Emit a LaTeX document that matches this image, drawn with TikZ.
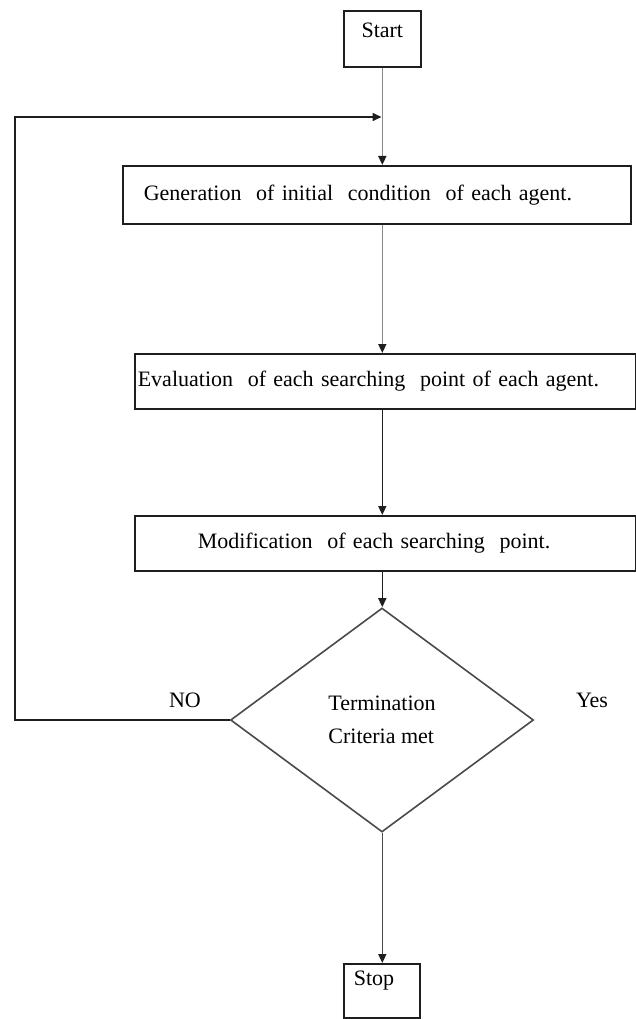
\documentclass[tikz,border=0pt]{standalone}
\usepackage{fontspec}
\setmainfont{Liberation Serif}
\usetikzlibrary{shapes.geometric,arrows.meta}
\definecolor{linec}{HTML}{1E1E1E}
\definecolor{grayline}{HTML}{8A8A8A}
\definecolor{diac}{HTML}{4A4A4A}
\begin{document}
\begin{tikzpicture}[x=1pt,y=-1pt,
  every node/.style={font=\fontsize{22}{27}\selectfont},
  proc/.style={draw=linec, line width=1.6pt, rectangle, anchor=north west, align=left, inner ysep=0pt},
  conn/.style={line width=1.6pt, draw=linec, -{Triangle[length=9pt,width=8pt,color=linec]}},
  lbl/.style={inner sep=0pt}]
\useasboundingbox (0,0) rectangle (636,1019);

\node[proc, align=center, inner xsep=0pt, inner ysep=12pt, text width=77pt, text height=15pt, text depth=17pt] (start) at (343,10) {Start};
\node[proc, inner xsep=21pt, text width=466pt, minimum height=58pt] (gen) at (122,165) {Generation\ \ of initial\ \ condition\ \ of each agent.};
\node[proc, inner xsep=3pt, text width=495pt, minimum height=55pt] (eval) at (134,353) {Evaluation\ \ of each searching\ \ point of each agent.};
\node[proc, inner xsep=63pt, text width=375pt, minimum height=55pt] (mod) at (134,515) {Modification\ \ of each searching\ \ point.};
\node[diamond, draw=diac, line width=1.6pt, minimum width=303pt, minimum height=224pt, inner sep=0pt, align=left] (dia) at (382,720) {Termination\\[6pt]Criteria met};
\node[proc, inner xsep=10pt, inner ysep=7pt, text width=56pt, text height=15pt, text depth=25pt] (stop) at (343,963) {Stop};
\node[lbl] (no) at (185,700) {NO};
\node[lbl] (yes) at (592,700) {Yes};

\coordinate (fb) at (381.5,117);
\coordinate (c1) at (15,117);
\coordinate (c2) at (15,720);

\draw[conn, draw=grayline] (start.south) -- (start.south |- gen.north);
\draw[conn, draw=grayline] (start.south |- gen.south) -- (start.south |- eval.north);
\draw[conn] (start.south |- eval.south) -- (start.south |- mod.north);
\draw[conn] (start.south |- mod.south) -- (start.south |- dia.north);
\draw[conn, draw=diac] (start.south |- dia.south) -- (start.south |- stop.north);
\draw[conn] (dia.west) -- (c2) -- (c1) -- (fb);
\end{tikzpicture}
\end{document}
